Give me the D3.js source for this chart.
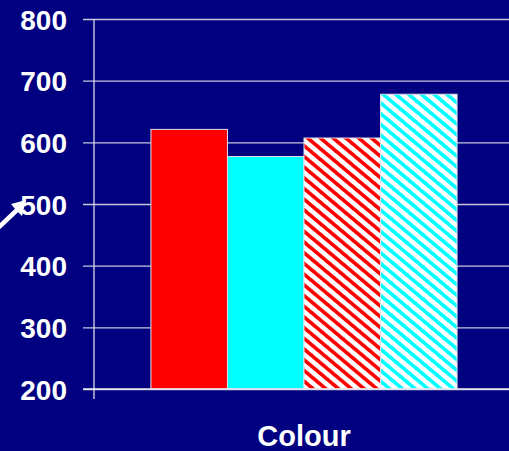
<!DOCTYPE html>
<html>
<head>
<meta charset="utf-8">
<script src="https://cdn.jsdelivr.net/npm/d3@7"></script>
<style>
  html, body { margin: 0; padding: 0; background: #000080; }
  svg { display: block; }
</style>
</head>
<body>
<svg id="chart" width="509" height="451"></svg>
<script>
// Chart data
const categories = ["Colour"];
const seriesNames = ["Red", "Cyan", "Red striped", "Cyan striped"];
const seriesValues = [621, 577, 607, 678];
const seriesColours = ["#ff0000", "#00ffff", "#ff0000", "#00ffff"];
const seriesStriped = [false, false, true, true];
const yTicks = [200, 300, 400, 500, 600, 700, 800];

const svg = d3.select("#chart");
const W = 509, H = 451;
const margin = { left: 94, right: -5 };

svg.append("rect").attr("width", W).attr("height", H).attr("fill", "#000080");

// Diagonal stripe fills for the striped series
const defs = svg.append("defs");
const period = 8.2;
seriesColours.forEach((c, i) => {
  if (!seriesStriped[i]) return;
  const p = defs.append("pattern")
    .attr("id", "stripe" + i)
    .attr("patternUnits", "userSpaceOnUse")
    .attr("width", period).attr("height", period)
    .attr("patternTransform", "rotate(-50)");
  p.append("rect").attr("width", period).attr("height", period).attr("fill", "#ffffff");
  p.append("rect").attr("width", 3.6).attr("height", period).attr("fill", c);
});

const y = d3.scaleLinear().domain([200, 800]).range([389, 19]);
const x0 = d3.scaleBand().domain(categories)
  .range([margin.left, W - margin.right])
  .paddingInner(0).paddingOuter(0.186);
const x1 = d3.scaleBand().domain(seriesNames).range([0, x0.bandwidth()]).padding(0);

// Horizontal gridlines with tick stubs
const yAxis = d3.axisLeft(y).tickValues(yTicks)
  .tickSize(-(W - margin.left)).tickSizeOuter(0);
const gy = svg.append("g").attr("transform", `translate(${margin.left},0)`).call(yAxis);
gy.select(".domain").remove();
gy.selectAll(".tick line")
  .attr("x1", -11)
  .attr("stroke", "#c8c8dc").attr("stroke-width", 1.3);
gy.selectAll(".tick text")
  .attr("x", -27)
  .attr("fill", "#ffffff")
  .attr("font-family", "'Liberation Sans', Arial, sans-serif")
  .attr("font-weight", "bold")
  .attr("font-size", 28)
  .attr("dy", "0.36em");

// Bars
const g = svg.append("g");
categories.forEach(cat => {
  seriesNames.forEach((s, i) => {
    const v = seriesValues[i];
    g.append("rect")
      .attr("x", x0(cat) + x1(s))
      .attr("y", y(v))
      .attr("width", x1.bandwidth())
      .attr("height", y(200) - y(v))
      .attr("fill", seriesStriped[i] ? `url(#stripe${i})` : seriesColours[i])
      .attr("stroke", "#e0e0e8").attr("stroke-width", 1);
  });
});

// Vertical axis line and bottom axis
svg.append("line")
  .attr("x1", margin.left).attr("x2", margin.left)
  .attr("y1", y(800)).attr("y2", y(200) + 10)
  .attr("stroke", "#d8d8e8").attr("stroke-width", 1.3);
svg.append("line")
  .attr("x1", margin.left - 11).attr("x2", W)
  .attr("y1", y(200)).attr("y2", y(200))
  .attr("stroke", "#e8e8f0").attr("stroke-width", 1.5);

// Category label
svg.append("text")
  .attr("x", x0(categories[0]) + x0.bandwidth() / 2)
  .attr("y", 446)
  .attr("text-anchor", "middle")
  .attr("fill", "#ffffff")
  .attr("font-family", "'Liberation Sans', Arial, sans-serif")
  .attr("font-weight", "bold")
  .attr("font-size", 29)
  .text(categories[0]);

// Pointer arrow at the left edge
svg.append("line")
  .attr("x1", -2).attr("y1", 228)
  .attr("x2", 17).attr("y2", 210)
  .attr("stroke", "#ffffff").attr("stroke-width", 4.5);
svg.append("path")
  .attr("d", "M26,200 L11,204 L16,210 L22,216 Z")
  .attr("fill", "#ffffff");
</script>
</body>
</html>
